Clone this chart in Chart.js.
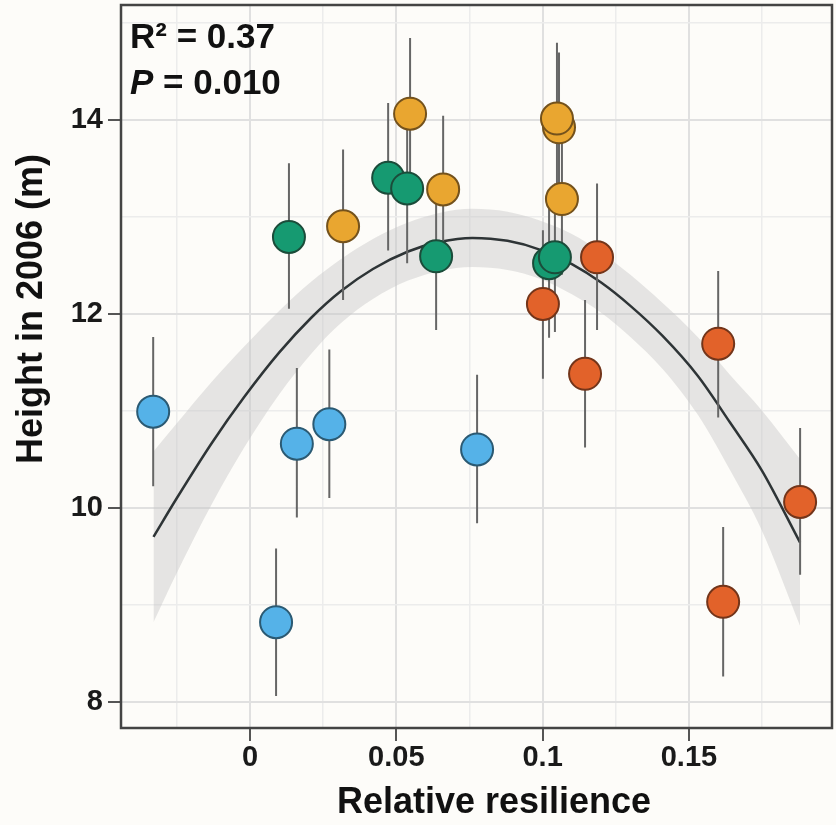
<!DOCTYPE html>
<html>
<head>
<meta charset="utf-8">
<script src="https://cdn.jsdelivr.net/npm/chart.js@4.4.1/dist/chart.umd.min.js"></script>
<style>
  html, body { margin: 0; padding: 0; background: #fdfcf9; }
  #wrap { width: 836px; height: 825px; }
</style>
</head>
<body>
<div id="wrap"><canvas id="chart" width="836" height="825"></canvas></div>
<script>
// ================================================================
// DATA
// ================================================================
const blueX  = [-0.0331, 0.0089, 0.0160, 0.0271, 0.0776];
const blueY  = [10.99, 8.82, 10.66, 10.86, 10.60];
const blueLo = [10.22, 8.06, 9.90, 10.10, 9.84];
const blueHi = [11.76, 9.58, 11.44, 11.63, 11.37];

const greenX  = [0.0133, 0.0472, 0.0537, 0.0636, 0.1022, 0.1042];
const greenY  = [12.79, 13.40, 13.29, 12.59, 12.52, 12.58];
const greenLo = [12.05, 12.65, 12.52, 11.83, 11.75, 11.81];
const greenHi = [13.55, 14.17, 14.05, 13.36, 13.28, 13.34];

const orangeX  = [0.0318, 0.0547, 0.0660, 0.1066, 0.1056, 0.1049];
const orangeY  = [12.90, 14.06, 13.28, 13.18, 13.92, 14.01];
const orangeLo = [12.14, 13.30, 12.52, 12.40, 13.15, 13.24];
const orangeHi = [13.69, 14.84, 14.04, 13.95, 14.69, 14.79];

const redX  = [0.1001, 0.1186, 0.1145, 0.1600, 0.1617, 0.1880];
const redY  = [12.10, 12.58, 11.38, 11.69, 9.03, 10.06];
const redLo = [11.33, 11.83, 10.62, 10.93, 8.26, 9.31];
const redHi = [12.86, 13.34, 12.14, 12.44, 9.80, 10.82];

// fitted curve and its confidence band
const fitX     = [-0.033, -0.025, -0.013, -0.002, 0.010, 0.021, 0.031, 0.042, 0.054, 0.065, 0.076, 0.088, 0.099, 0.110, 0.120, 0.130, 0.141, 0.153, 0.164, 0.175, 0.188];
const fitY     = [9.70, 10.10, 10.67, 11.14, 11.60, 11.96, 12.23, 12.46, 12.64, 12.74, 12.78, 12.75, 12.66, 12.51, 12.32, 12.08, 11.77, 11.36, 10.88, 10.38, 9.64];
const bandHigh = [10.58, 10.87, 11.30, 11.66, 12.03, 12.33, 12.56, 12.77, 12.94, 13.04, 13.08, 13.05, 12.96, 12.82, 12.63, 12.40, 12.11, 11.76, 11.37, 11.00, 10.50];
const bandLow  = [8.82, 9.33, 10.04, 10.62, 11.17, 11.59, 11.90, 12.15, 12.34, 12.44, 12.48, 12.45, 12.36, 12.20, 12.01, 11.76, 11.43, 10.96, 10.39, 9.76, 8.78];

// axes
const xMajor = [0, 0.05, 0.1, 0.15];
const xMinor = [-0.025, 0.025, 0.075, 0.125, 0.175];
const yMajor = [8, 10, 12, 14];
const yMinor = [9, 11, 13, 15];
const xRange = [-0.0441, 0.1989];
const yRange = [7.73, 15.18];

const xTitle = 'Relative resilience';
const yTitle = 'Height in 2006 (m)';
const r2Text = 'R² = 0.37';
const pLabel = 'P';
const pText  = ' = 0.010';

// ================================================================
// HELPERS
// ================================================================
const FONT = '"Liberation Sans", Arial, sans-serif';
const pts  = (xs, ys) => xs.map((x, i) => ({ x, y: ys[i] }));
const allX  = [...blueX, ...greenX, ...orangeX, ...redX];
const allLo = [...blueLo, ...greenLo, ...orangeLo, ...redLo];
const allHi = [...blueHi, ...greenHi, ...orangeHi, ...redHi];
const errData = [];
allX.forEach((x, i) => { errData.push({ x, y: allLo[i] }, { x, y: allHi[i] }, { x, y: null }); });

function group(xs, ys, fill, edge) {
    return { data: pts(xs, ys), backgroundColor: fill, borderColor: edge, borderWidth: 2, pointRadius: 16, pointHoverRadius: 16, order: 0 };
}

const isMajor = (list, v) => list.some(m => Math.abs(m - v) < 1e-9);

function axis(range, major, minor, pos) {
    return {
        type: 'linear', position: pos, min: range[0], max: range[1],
        afterBuildTicks: s => { s.ticks = [...major, ...minor].sort((a, b) => a - b).map(v => ({ value: v })); },
        afterFit: s => {
            if (pos === 'left') s.width = 121; else s.height = 97;
            s.paddingTop = s.paddingBottom = s.paddingLeft = s.paddingRight = 0;
        },
        border: { display: false },
        grid: {
            color: c => isMajor(major, c.tick.value) ? '#e0e0e0' : '#ececec',
            lineWidth: c => isMajor(major, c.tick.value) ? 2 : 1.5,
            tickColor: c => isMajor(major, c.tick.value) ? '#555' : 'rgba(0,0,0,0)',
            tickWidth: 2, tickLength: 13
        },
        ticks: {
            autoSkip: false, maxRotation: 0,
            padding: pos === 'left' ? 5 : 0,
            color: '#1a1a1a',
            font: { family: FONT, size: 29, weight: 'bold' },
            callback: v => isMajor(major, v) ? String(v) : ''
        }
    };
}

// frame, annotation and axis titles
const decor = {
    id: 'decor',
    afterDraw(chart) {
        const { ctx, chartArea: a } = chart;
        ctx.save();
        ctx.strokeStyle = '#444'; ctx.lineWidth = 2.5;
        ctx.strokeRect(a.left, a.top, a.right - a.left, a.bottom - a.top);

        ctx.fillStyle = '#111'; ctx.textBaseline = 'alphabetic'; ctx.textAlign = 'left';
        ctx.font = `bold 35px ${FONT}`;
        ctx.fillText(r2Text, 130, 48);
        ctx.font = `italic bold 35px ${FONT}`;
        ctx.fillText(pLabel, 130, 94);
        const w = ctx.measureText(pLabel).width;
        ctx.font = `bold 35px ${FONT}`;
        ctx.fillText(pText, 130 + w, 94);

        ctx.font = `bold 36px ${FONT}`; ctx.textAlign = 'center';
        ctx.fillText(xTitle, 494, 813);
        ctx.translate(42, 309); ctx.rotate(-Math.PI / 2);
        ctx.fillText(yTitle, 0, 0);
        ctx.restore();
    }
};

new Chart(document.getElementById('chart'), {
    type: 'scatter',
    data: {
        datasets: [
            group(blueX, blueY, '#55b2e8', '#2b5a73'),
            group(greenX, greenY, '#169a71', '#1b4c3a'),
            group(orangeX, orangeY, '#e9a630', '#74521c'),
            group(redX, redY, '#e2622a', '#73351a'),
            { type: 'line', data: errData, borderColor: '#666', borderWidth: 2, pointRadius: 0, spanGaps: false, order: 1 },
            { type: 'line', data: pts(fitX, fitY), borderColor: '#2e3436', borderWidth: 2.5, pointRadius: 0, cubicInterpolationMode: 'monotone', order: 2 },
            { type: 'line', data: pts(fitX, bandHigh), borderWidth: 0, borderColor: 'rgba(0,0,0,0)', pointRadius: 0, cubicInterpolationMode: 'monotone', fill: false, order: 3 },
            { type: 'line', data: pts(fitX, bandLow), borderWidth: 0, borderColor: 'rgba(0,0,0,0)', pointRadius: 0, cubicInterpolationMode: 'monotone', fill: '-1', backgroundColor: 'rgba(200,200,200,0.45)', order: 4 }
        ]
    },
    options: {
        responsive: false,
        devicePixelRatio: 1,
        animation: false,
        layout: { autoPadding: false, padding: { top: 5, right: 4, left: 0, bottom: 0 } },
        plugins: { legend: { display: false }, tooltip: { enabled: false } },
        scales: {
            x: axis(xRange, xMajor, xMinor, 'bottom'),
            y: axis(yRange, yMajor, yMinor, 'left')
        }
    },
    plugins: [decor]
});
</script>
</body>
</html>
